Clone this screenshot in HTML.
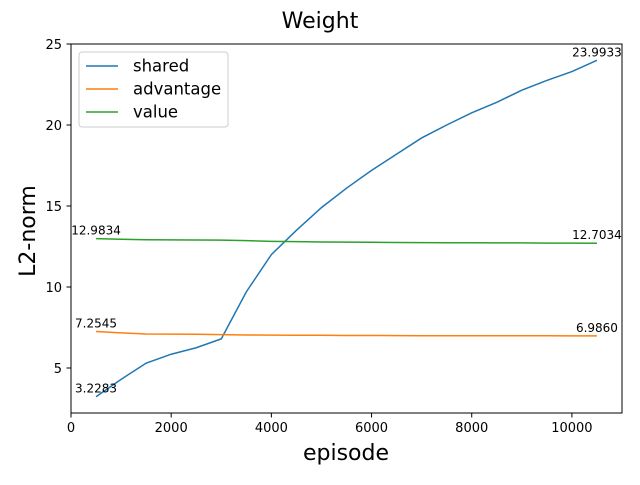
<!DOCTYPE html>
<html><head><meta charset="utf-8"><style>
body{margin:0;background:#fff;}
svg{font-family:"DejaVu Sans","Liberation Sans",sans-serif;}
</style></head><body>
<svg id="chart" width="640" height="480" xmlns="http://www.w3.org/2000/svg">
<rect width="640" height="480" fill="#fff"/>
<text x="320" y="28" text-anchor="middle" font-size="22">Weight</text>
<text x="346" y="460" text-anchor="middle" font-size="22">episode</text>
<text transform="translate(35,231) rotate(-90)" text-anchor="middle" font-size="22">L2-norm</text>
<g id="ticks"></g>
<g id="series"></g>
<rect x="71" y="44" width="551" height="369" fill="none" stroke="#000" stroke-width="1"/>
<g>
<rect x="79" y="52" width="149" height="75" rx="3" fill="#fff" fill-opacity="0.8" stroke="#ccc"/>
<line x1="86" y1="66" x2="118" y2="66" stroke="#1f77b4" stroke-width="1.5"/>
<text x="133" y="71.5" font-size="16.5">shared</text>
<line x1="86" y1="89" x2="118" y2="89" stroke="#ff7f0e" stroke-width="1.5"/>
<text x="133" y="94.5" font-size="16.5">advantage</text>
<line x1="86" y1="112" x2="118" y2="112" stroke="#2ca02c" stroke-width="1.5"/>
<text x="133" y="117.5" font-size="16.5">value</text>
</g>
</svg>
<script>
const episodes=[500,1000,1500,2000,2500,3000,3500,4000,4500,5000,5500,6000,6500,7000,7500,8000,8500,9000,9500,10000,10500];
const shared=[3.2283,4.3,5.3,5.85,6.25,6.8,9.7,12.0,13.5,14.9,16.1,17.2,18.2,19.2,20.0,20.75,21.4,22.15,22.75,23.3,23.9933];
const advantage=[7.2545,7.17,7.1,7.09,7.08,7.06,7.04,7.03,7.02,7.02,7.01,7.01,7.0,6.99,6.99,6.99,6.99,6.99,6.99,6.986,6.9860];
const value=[12.9834,12.95,12.92,12.91,12.9,12.89,12.86,12.82,12.8,12.78,12.77,12.76,12.75,12.74,12.73,12.73,12.72,12.72,12.71,12.71,12.7034];
const xTicks=[0,2000,4000,6000,8000,10000];
const yTicks=[5,10,15,20,25];
const X=v=>71+(v/11000)*551;
const Y=v=>44+(25-v)*16.2;
const NS="http://www.w3.org/2000/svg";
const tg=document.getElementById('ticks'),sg=document.getElementById('series');
function mk(tag,attrs,parent){const e=document.createElementNS(NS,tag);for(const k in attrs)e.setAttribute(k,attrs[k]);parent.appendChild(e);return e;}
xTicks.forEach(t=>{
 const l=mk('line',{x1:X(t),x2:X(t),y1:413,y2:417.5,stroke:'#000'},tg);
 
 
 const tx=mk('text',{x:X(t),y:432,'text-anchor':'middle','font-size':'13'},tg);tx.textContent=t;
 
 
});
yTicks.forEach(t=>{
 const l=mk('line',{x1:66.5,x2:71,y1:Y(t),y2:Y(t),stroke:'#000'},tg);
 
 
 const tx=mk('text',{x:62,y:Y(t)+5,'text-anchor':'end','font-size':'13'},tg);tx.textContent=t;
 
 
});
[[shared,'#1f77b4','shared'],[advantage,'#ff7f0e','advantage'],[value,'#2ca02c','value']].forEach(([d,c,n])=>{
 const p=mk('polyline',{points:d.map((v,i)=>X(episodes[i])+','+Y(v)).join(' '),fill:'none',stroke:c,'stroke-width':1.5},sg);
 
 
 [0,d.length-1].forEach(i=>{
  const t=mk('text',{x:X(episodes[i]),y:Y(d[i])-4,'text-anchor':'middle','font-size':'12'},sg);
  t.textContent=d[i].toFixed(4);
  
  
 });
});
</script>
</body></html>
